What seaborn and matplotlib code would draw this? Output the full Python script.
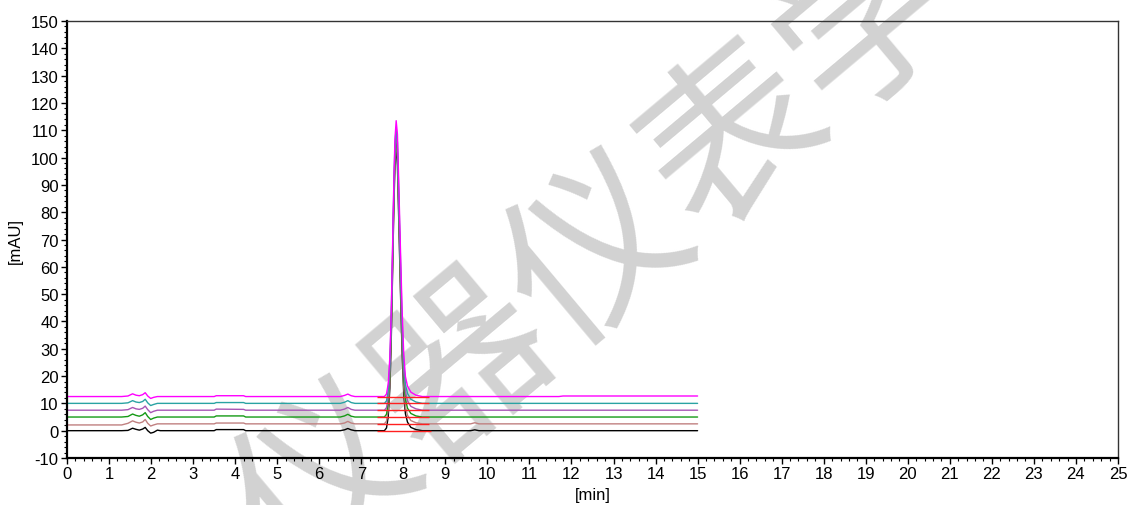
import numpy as np
import pandas as pd
import seaborn as sns
import matplotlib
matplotlib.use('Agg')
import matplotlib.pyplot as plt
from matplotlib.ticker import MultipleLocator

# retention time knots [min]
times = [0, 1.3, 1.45, 1.56, 1.64, 1.72, 1.80, 1.86, 1.92, 1.99, 2.06, 2.15, 2.22, 2.3,
         3.5, 3.55, 4.2, 4.25, 6.5, 6.6, 6.68, 6.76, 6.85,
         7.55, 7.60, 7.64, 7.68, 7.71, 7.74, 7.77, 7.80, 7.83, 7.86, 7.89, 7.93, 7.97,
         8.01, 8.05, 8.10, 8.18, 8.3, 8.45, 9.6, 9.7, 9.8, 11.7, 11.8, 15]

# signal above each run's own baseline [mAU]
run1 = [0, 0, 0.1, 0.9, 0.5, 0.2, 0.6, 1.2, 0.0, -0.9, -0.6, 0.2, 0.0, 0,
        0, 0.4, 0.4, 0, 0, 0.3, 0.8, 0.3, 0,
        0, 1.0, 5.0, 15.6, 31, 54, 78, 97, 104, 97, 78, 52, 29,
        13.5, 6.2, 3.1, 1.2, 0.4, 0, 0, 0.3, 0, 0, 0, 0]
run2 = [-0.4, -0.4, 0.2, 1.1, 0.6, 0.3, 0.7, 1.6, 0.2, -0.8, -0.4, 0, 0, 0,
        0, 0.3, 0.3, 0, 0, 0.3, 0.9, 0.3, 0,
        0, 1.0, 5.0, 15.5, 31, 54, 78, 97, 103.5, 97, 78, 52, 29,
        13.5, 6.2, 3.1, 1.2, 0.4, 0, 0, 0.4, 0, 0, 0, 0]
run3 = [0, 0, 0.2, 1.1, 0.6, 0.3, 0.8, 1.6, 0.2, -0.9, -0.4, 0, 0, 0,
        0, 0.4, 0.4, 0, 0, 0.4, 1.0, 0.3, 0,
        0, 1.0, 5.0, 15.5, 31, 53.5, 77, 96, 103, 96.5, 78, 53, 30,
        14, 6.5, 3.2, 1.3, 0.4, 0, 0, 0, 0, 0, 0, 0]
run4 = [0, 0, 0.2, 1.0, 0.5, 0.3, 0.7, 1.5, 0.2, -0.9, -0.4, 0, 0, 0,
        0, 0.4, 0.3, 0, 0, 0.4, 1.0, 0.3, 0,
        0, 0.9, 4.8, 15, 30, 52.5, 76, 95, 101.5, 95.5, 77.5, 53, 30.5,
        14.5, 6.8, 3.4, 1.4, 0.5, 0, 0, 0, 0, 0, 0, 0]
run5 = [0, 0, 0.2, 1.0, 0.5, 0.3, 0.7, 1.5, 0.2, -0.8, -0.4, 0, 0, 0,
        0, 0.3, 0.3, 0, 0, 0.4, 1.0, 0.3, 0,
        0, 0.9, 4.7, 14.8, 30, 52, 75.5, 94.5, 101, 95.5, 78, 54, 31,
        15, 7.0, 3.6, 1.5, 0.5, 0, 0, 0, 0, 0, 0, 0]
run6 = [0, 0, 0.2, 1.0, 0.5, 0.3, 0.7, 1.4, 0.2, -0.7, -0.3, 0, 0, 0,
        0, 0.3, 0.3, 0, 0, 0.4, 0.9, 0.3, 0,
        0, 0.9, 4.6, 14.5, 29.5, 51.5, 75, 94, 101, 96, 79, 55, 32,
        15.5, 7.3, 3.8, 1.6, 0.5, 0, 0, 0, 0, 0, 0.2, 0.2]

runs = [run1, run2, run3, run4, run5, run6]
run_names = ['run 1', 'run 2', 'run 3', 'run 4', 'run 5', 'run 6']
offsets = [0, 2.5, 5, 7.5, 10, 12.5]          # overlay offsets [mAU]
colors = ['#000000', '#c08080', '#159a15', '#a855b5', '#2aa3a3', '#ff00ff']

# integration baselines (red)
base_start = [7.38, 7.38, 7.38, 7.38, 7.38, 7.38]
base_end = [8.65, 8.6, 8.6, 8.6, 8.6, 8.6]

rows = []
for name, vals, off in zip(run_names, runs, offsets):
  for t, v in zip(times, vals):
    rows.append((name, t, v + off))
data = pd.DataFrame(rows, columns=['Run', 'Time', 'Signal'])

sns.set_style('white')
plt.rcParams['font.family'] = ['Liberation Sans', 'DejaVu Sans']
plt.rcParams['axes.unicode_minus'] = False

fig, ax = plt.subplots(figsize=(11.32, 5.06), dpi=100)
fig.subplots_adjust(left=0.0592, right=0.9876, bottom=0.0929, top=0.9565)
ax.patch.set_alpha(0)

sns.lineplot(data=data, x='Time', y='Signal', hue='Run', palette=colors,
             estimator=None, sort=False, lw=1.0, legend=False, ax=ax)

ax.hlines(offsets, base_start, base_end, colors='#ff2020', lw=1.0, zorder=3)

ax.set_xlim(0, 25)
ax.set_ylim(-10, 150)
ax.xaxis.set_major_locator(MultipleLocator(1))
ax.xaxis.set_minor_locator(MultipleLocator(0.2))
ax.yaxis.set_major_locator(MultipleLocator(10))
ax.yaxis.set_minor_locator(MultipleLocator(2))
ax.tick_params(which='major', direction='out', length=4, width=1, labelsize=12,
               bottom=True, left=True, pad=2, colors='black')
ax.tick_params(which='minor', direction='out', length=2, width=0.8,
               bottom=True, left=True, colors='black')

for side in ['left', 'bottom']:
  ax.spines[side].set_linewidth(1.6)
  ax.spines[side].set_color('black')
for side in ['top', 'right']:
  ax.spines[side].set_linewidth(1.0)
  ax.spines[side].set_color('#333333')

ax.set_xlabel('[min]', fontsize=12, labelpad=4, color='black')
ax.set_ylabel('[mAU]', fontsize=12, labelpad=6, color='black')

# watermark, behind the traces
fig.text(600 / 1132, 1 - 255 / 506, '仪器仪表学', family=['Noto Sans CJK SC'],
         fontsize=128, color='#d2d2d2', rotation=40,
         ha='center', va='center', rotation_mode='anchor', zorder=-1)

fig.savefig('out.png', dpi=100)
